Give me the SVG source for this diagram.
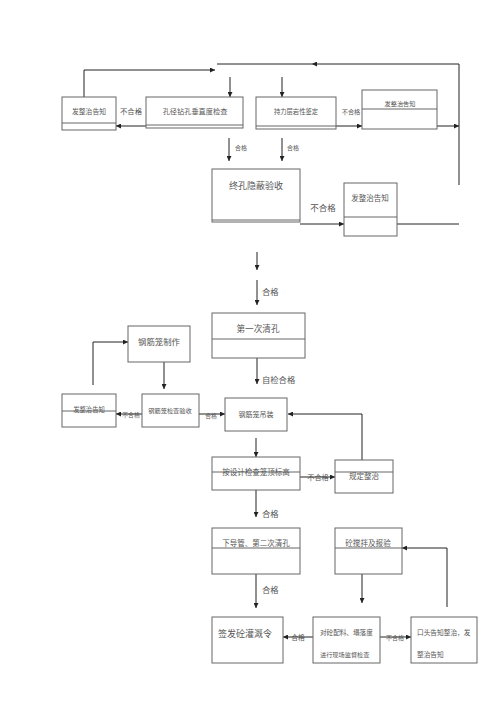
<svg xmlns="http://www.w3.org/2000/svg" width="500" height="707" viewBox="0 0 500 707">
<defs>
<marker id="ah" viewBox="0 0 10 10" refX="10" refY="5" markerWidth="5" markerHeight="5" orient="auto" markerUnits="userSpaceOnUse">
<path d="M0,0 L10,5 L0,10 z" fill="#222"/>
</marker>
<style>
.box{fill:#fff;stroke:#666;stroke-width:1}
.sep{stroke:#666;stroke-width:1;fill:none}
.c{stroke:#222;stroke-width:1;fill:none}
.a{stroke:#222;stroke-width:1;fill:none;marker-end:url(#ah)}
text{font-family:"Noto Sans CJK SC","Liberation Serif",serif;fill:#555}
.m{text-anchor:middle}
</style>
</defs>
<rect width="500" height="707" fill="#fff"/>

<g id="connectors">
<path class="a" d="M84,97 V70 H215"/>
<path class="a" d="M459,185 V64 H312"/>
<path class="c" d="M312,64 H217"/>
<path class="a" d="M230,77 V97"/>
<path class="a" d="M282,77 V97"/>
<path class="a" d="M146,126 H116"/>
<path class="a" d="M336,126 H362"/>
<path class="a" d="M437,126 H459"/>
<path class="a" d="M229,138 V161"/>
<path class="a" d="M282,138 V161"/>
<path class="a" d="M300,224 H344"/>
<path class="c" d="M397,224 H459"/>
<path class="a" d="M257,252 V270"/>
<path class="a" d="M257,280 V305"/>
<path class="a" d="M257,358 V384"/>
<path class="a" d="M93,385 V342 H128"/>
<path class="a" d="M164,362 V389"/>
<path class="a" d="M142,414 H116"/>
<path class="a" d="M199,414 H225"/>
<path class="a" d="M362,460 V414 H288"/>
<path class="a" d="M256,438 V457"/>
<path class="a" d="M300,477 H335"/>
<path class="a" d="M256,490 V517"/>
<path class="a" d="M256,574 V608"/>
<path class="a" d="M362,574 V603"/>
<path class="a" d="M447,607 V548 H402"/>
<path class="a" d="M313,637 H283"/>
<path class="a" d="M380,637 H411"/>
</g>

<g id="labels">
<text x="131" y="114" class="m" font-size="7.3">不合格</text>
<text x="351" y="114" class="m" font-size="6.2">不合格</text>
<text x="235" y="150" font-size="6">合格</text>
<text x="287" y="150" font-size="6">合格</text>
<text x="323" y="211" class="m" font-size="8.5">不合格</text>
<text x="262" y="295" font-size="8.3">合格</text>
<text x="262" y="383" font-size="8.3">自检合格</text>
<text x="131" y="417" class="m" font-size="5.8">不合格</text>
<text x="211" y="418" class="m" font-size="5.8">合格</text>
<text x="318" y="480" class="m" font-size="7.2">不合格</text>
<text x="262" y="517" font-size="8.3">合格</text>
<text x="262" y="593" font-size="8.3">合格</text>
<text x="298" y="640" class="m" font-size="6.8">合格</text>
<text x="395" y="640" class="m" font-size="6">不合格</text>
</g>

<g id="n1"><rect class="box" x="62" y="97" width="54" height="33"/><line class="sep" x1="62" y1="123" x2="116" y2="123"/><text x="89" y="114" class="m" font-size="6.8">发整治告知</text></g>
<g id="n2"><rect class="box" x="146" y="97" width="97" height="31"/><line class="sep" x1="146" y1="125" x2="243" y2="125"/><text x="195" y="114" class="m" font-size="7.2">孔径钻孔垂直度检查</text></g>
<g id="n3"><rect class="box" x="256" y="97" width="80" height="32"/><line class="sep" x1="256" y1="126" x2="336" y2="126"/><text x="296" y="114" class="m" font-size="6.3">持力层岩性鉴定</text></g>
<g id="n4"><rect class="box" x="362" y="90" width="75" height="39"/><line class="sep" x1="362" y1="109" x2="437" y2="109"/><text x="400" y="106" class="m" font-size="6.2">发整治告知</text></g>
<g id="n5"><rect class="box" x="212" y="169" width="88" height="53"/><line class="sep" x1="212" y1="220" x2="300" y2="220"/><text x="256" y="189" class="m" font-size="9">终孔隐蔽验收</text></g>
<g id="n6"><rect class="box" x="344" y="183" width="53" height="53"/><line class="sep" x1="344" y1="217" x2="397" y2="217"/><text x="370" y="201" class="m" font-size="7.5">发整治告知</text></g>
<g id="n7"><rect class="box" x="212" y="313" width="93" height="45"/><line class="sep" x1="212" y1="339" x2="305" y2="339"/><text x="258" y="332" class="m" font-size="8.6">第一次清孔</text></g>
<g id="n8"><rect class="box" x="128" y="326" width="62" height="36"/><text x="159" y="345" class="m" font-size="8.4">钢筋笼制作</text></g>
<g id="n9"><rect class="box" x="62" y="394" width="54" height="33"/><line class="sep" x1="62" y1="411" x2="116" y2="411"/><text x="89" y="412" class="m" font-size="6.3">发整治告知</text></g>
<g id="n10"><rect class="box" x="142" y="394" width="57" height="33"/><text x="170" y="413" class="m" font-size="6.2">钢筋笼检查验收</text></g>
<g id="n11"><rect class="box" x="225" y="398" width="62" height="33"/><text x="256" y="417" class="m" font-size="7">钢筋笼吊装</text></g>
<g id="n12"><rect class="box" x="212" y="457" width="88" height="33"/><line class="sep" x1="212" y1="472" x2="300" y2="472"/><text x="256" y="475" class="m" font-size="7.5">按设计检查笼顶标高</text></g>
<g id="n13"><rect class="box" x="335" y="460" width="58" height="33"/><line class="sep" x1="335" y1="472" x2="393" y2="472"/><text x="364" y="479" class="m" font-size="7.5">规定整治</text></g>
<g id="n14"><rect class="box" x="212" y="528" width="88" height="46"/><line class="sep" x1="212" y1="548" x2="300" y2="548"/><text x="256" y="546" class="m" font-size="7.5">下导管、第二次清孔</text></g>
<g id="n15"><rect class="box" x="335" y="528" width="67" height="46"/><line class="sep" x1="335" y1="548" x2="402" y2="548"/><text x="368" y="546" class="m" font-size="7.6">砼搅拌及报验</text></g>
<g id="n16"><rect class="box" x="212" y="617" width="71" height="46"/><text x="218" y="637" font-size="9">签发砼灌溉令</text></g>
<g id="n17"><rect class="box" x="313" y="617" width="67" height="46"/><text x="320" y="635" font-size="6.6">对砼配料、塌落度</text><text x="320" y="657" font-size="6.2">进行现场监督检查</text></g>
<g id="n18"><rect class="box" x="411" y="617" width="66" height="46"/><text x="417" y="635" font-size="6.7">口头告知整治，发</text><text x="417" y="657" font-size="6.7">整治告知</text></g>
</svg>
